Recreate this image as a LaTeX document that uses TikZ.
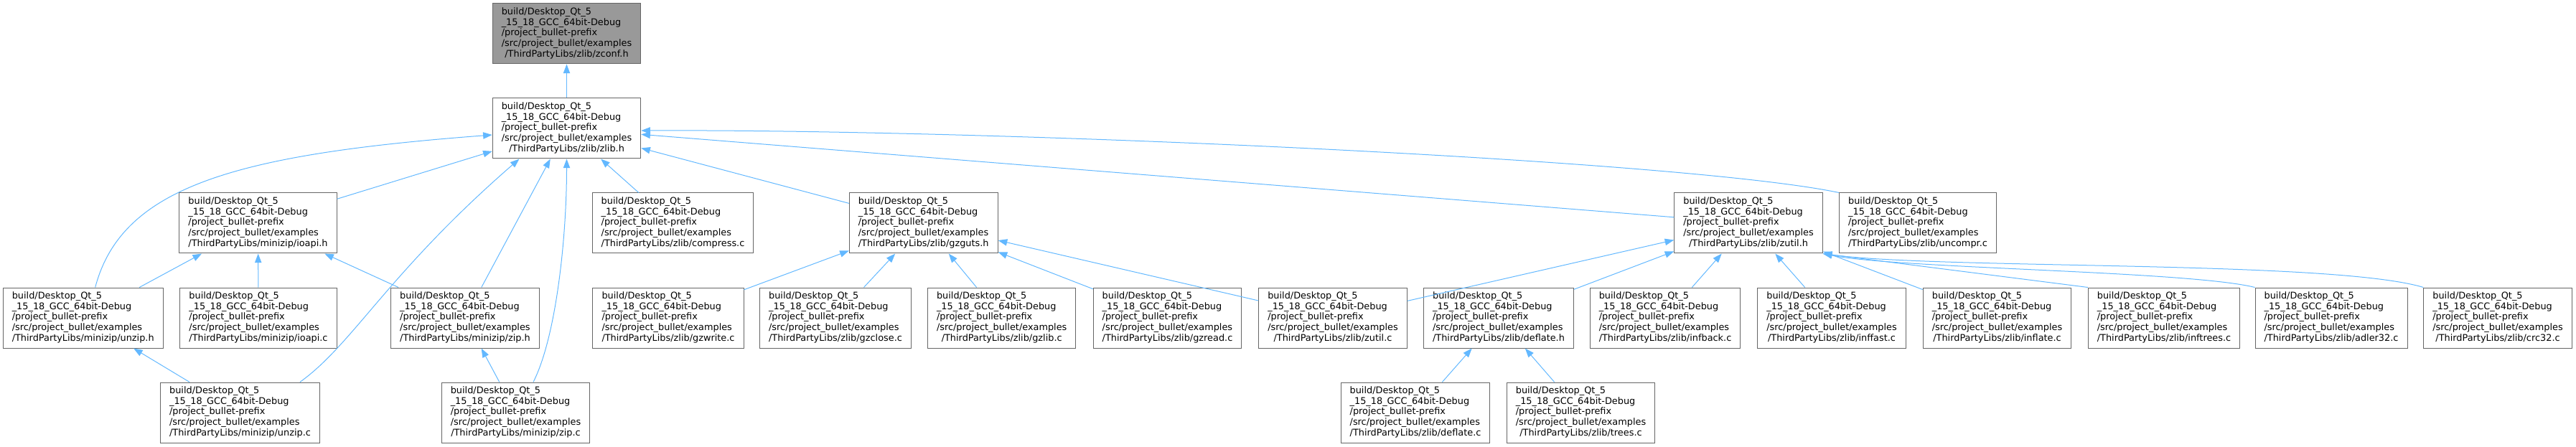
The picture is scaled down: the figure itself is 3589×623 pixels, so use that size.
\documentclass[tikz,border=0pt]{standalone}
\usepackage{fontspec}
\setmainfont{DejaVu Sans}
\usepackage{xcolor}
\usepackage{tikz}
\usetikzlibrary{arrows.meta,calc}
\definecolor{edge}{HTML}{63B8FF}
\definecolor{frame}{HTML}{666666}
\definecolor{rootgray}{HTML}{999999}
\newcommand{\lblfont}{\fontsize{9.65pt}{11pt}\selectfont}
\newcommand{\fpath}[1]{\begin{tabular}{@{}l@{}}build/Desktop\_Qt\_5\\\_15\_18\_GCC\_64bit-Debug\\/project\_bullet-prefix\\/src/project\_bullet/examples\\\multicolumn{1}{@{}c@{}}{/ThirdPartyLibs/#1}\end{tabular}}
\tikzset{
  fil/.style   = {draw=frame, fill=white, line width=0.75pt, inner xsep=9.4pt, inner ysep=0pt,
                  minimum height=63pt, font=\lblfont, text=black},
  rootf/.style = {fil, fill=rootgray},
  ar/.style    = {-{Triangle[length=9.5pt,width=7pt]}, line width=0.75pt, draw=edge},
}
\begin{document}
\begin{tikzpicture}[x=0.75pt,y=-0.75pt]
  \useasboundingbox (0,0) rectangle (3589,623);
  % header and zlib.h
  \node[rootf] (zconf) at (789.5,47) {\fpath{zlib/zconf.h}};
  \node[fil] (zlibh) at (789.5,179) {\fpath{zlib/zlib.h}};
  \draw[ar] (zlibh) -- (zconf);

  % second row
  \node[fil] (ioapih) at (359.5,311) {\fpath{minizip/ioapi.h}};
  \node[fil] (compressc) at (937.5,311) {\fpath{zlib/compress.c}};
  \node[fil] (gzgutsh) at (1286.7,311) {\fpath{zlib/gzguts.h}};
  \node[fil] (zutilh) at (2436,311) {\fpath{zlib/zutil.h}};
  \node[fil] (uncomprc) at (2672,311) {\fpath{zlib/uncompr.c}};

  % third row
  \node[fil] (unziph) at (115.7,443) {\fpath{minizip/unzip.h}};
  \node[fil] (ioapic) at (360,443) {\fpath{minizip/ioapi.c}};
  \node[fil] (ziph) at (648,443) {\fpath{minizip/zip.h}};
  \node[fil] (gzwritec) at (931,443) {\fpath{zlib/gzwrite.c}};
  \node[fil] (gzclosec) at (1164,443) {\fpath{zlib/gzclose.c}};
  \node[fil] (gzlibc) at (1395.7,443) {\fpath{zlib/gzlib.c}};
  \node[fil] (gzreadc) at (1626.5,443) {\fpath{zlib/gzread.c}};
  \node[fil] (zutilc) at (1857,443) {\fpath{zlib/zutil.c}};
  \node[fil] (deflateh) at (2088,443) {\fpath{zlib/deflate.h}};
  \node[fil] (infbackc) at (2320,443) {\fpath{zlib/infback.c}};
  \node[fil] (inffastc) at (2552,443) {\fpath{zlib/inffast.c}};
  \node[fil] (inflatec) at (2782.5,443) {\fpath{zlib/inflate.c}};
  \node[fil] (inftreesc) at (3015,443) {\fpath{zlib/inftrees.c}};
  \node[fil] (adlerc) at (3248,443) {\fpath{zlib/adler32.c}};
  \node[fil] (crcc) at (3480,443) {\fpath{zlib/crc32.c}};

  % bottom row
  \node[fil] (unzipc) at (334.5,575) {\fpath{minizip/unzip.c}};
  \node[fil] (zipc) at (718.5,575) {\fpath{minizip/zip.c}};
  \node[fil] (deflatec) at (1972,575) {\fpath{zlib/deflate.c}};
  \node[fil] (treesc) at (2202.5,575) {\fpath{zlib/trees.c}};

  % includes of zlib.h
  \draw[ar] (ioapih) -- (zlibh); \draw[ar] (ziph) -- (zlibh);
  \draw[ar] (compressc) -- (zlibh); \draw[ar] (gzgutsh) -- (zlibh);
  \draw[ar] (zutilh) -- (zlibh);
  \draw[ar] ($(unziph.north)+(17,0)$) .. controls +(37,-141) and +(-356,27) .. ($(zlibh.west)+(0,9)$);
  \draw[ar] ($(unzipc.north east)+(-28,0)$) .. controls +(74,-53) and +(-183,159) .. ($(zlibh.south)+(-66,0)$);
  \draw[ar] ($(zipc.north)+(24.5,0)$) .. controls +(32,-63) and +(0,109) .. (zlibh.south);
  \draw[ar] (uncomprc.north west) .. controls +(-214,-45) and +(507,-2) .. ($(zlibh.east)+(0,3)$);

  % minizip
  \draw[ar] (unziph) -- (ioapih); \draw[ar] (ioapic) -- (ioapih); \draw[ar] (ziph) -- (ioapih);
  \draw[ar] (unzipc) -- (unziph); \draw[ar] (zipc) -- (ziph);

  % gzguts.h
  \draw[ar] (gzwritec) -- (gzgutsh); \draw[ar] (gzclosec) -- (gzgutsh);
  \draw[ar] (gzlibc) -- (gzgutsh); \draw[ar] (gzreadc) -- (gzgutsh);
  \draw[ar] (zutilc) -- (gzgutsh);

  % zutil.h
  \draw[ar] (zutilc) -- (zutilh); \draw[ar] (deflateh) -- (zutilh);
  \draw[ar] (infbackc) -- (zutilh); \draw[ar] (inffastc) -- (zutilh);
  \draw[ar] (inflatec) -- (zutilh);
  \draw[ar] (inftreesc.north west) -- (zutilh.south east);
  \draw[ar] (adlerc.north west) .. controls +(-93,-23) and +(105,21) .. (zutilh.south east);
  \draw[ar] (crcc.north west) .. controls +(-126,-38) and +(161,22) .. (zutilh.south east);

  % deflate.h
  \draw[ar] (deflatec) -- (deflateh); \draw[ar] (treesc) -- (deflateh);
\end{tikzpicture}
\end{document}
